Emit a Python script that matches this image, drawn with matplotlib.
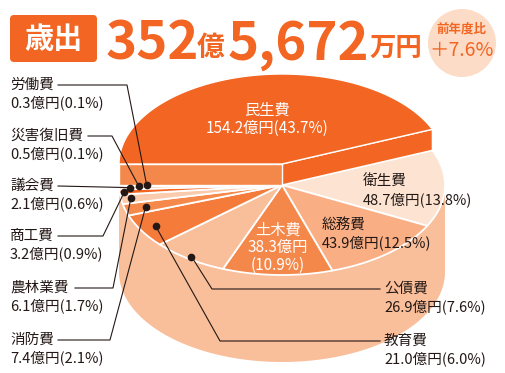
import numpy as np
import matplotlib
matplotlib.use('Agg')
import matplotlib.pyplot as plt
from matplotlib.patches import Polygon, Circle, FancyBboxPatch

plt.rcParams['font.family'] = ['Noto Sans CJK JP', 'DejaVu Sans']

# data (億円 / %)
categories = ['民生費', '衛生費', '総務費', '土木費', '公債費', '教育費',
              '消防費', '農林業費', '商工費', '議会費', '災害復旧費', '労働費']
amounts = [154.2, 48.7, 43.9, 38.3, 26.9, 21.0, 7.4, 6.1, 3.2, 2.1, 0.5, 0.3]
shares = [43.7, 13.8, 12.5, 10.9, 7.6, 6.0, 2.1, 1.7, 0.9, 0.6, 0.1, 0.1]
total_oku = '352'
total_man = '5,672'
yoy = '＋7.6%'

top_colors = ['#F26522', '#FDE4D2', '#F9AE84', '#F4884B', '#F9BE9A', '#F47B3A',
              '#F5894C', '#FBCBAE', '#F26522', '#FBCBAE', '#F9B48C', '#F5894C']

CX, CY = 282, 185
RX, RY = 163, 90
DEPTH = 87
LIFT = 21
SIDE = '#F9BE9A'
DARK = '#F26522'
INK = '#231815'


def rim(cx, cy, ang):
    a = np.radians(ang)
    return np.column_stack([cx + RX * np.cos(a), cy - RY * np.sin(a)])


def wedge(cx, cy, a0, a1):
    arc = rim(cx, cy, np.linspace(a0, a1, 80))
    return np.vstack([[cx, cy], arc])


fig = plt.figure(figsize=(5.06, 3.73), dpi=100)
ax = fig.add_axes([0, 0, 1, 1])
ax.set_xlim(0, 506)
ax.set_ylim(373, 0)
ax.axis('off')

bounds = 180 - np.concatenate([[0], np.cumsum(shares)]) * 3.6

# side of the lower pie
top_arc = rim(CX, CY, np.linspace(0, -180, 120))
bot_arc = rim(CX, CY + DEPTH, np.linspace(-180, 0, 120))
ax.add_patch(Polygon(np.vstack([top_arc, bot_arc]), closed=True, fc=SIDE, ec='none'))

# top faces of the lower pie
for i in range(1, len(shares)):
    ax.add_patch(Polygon(wedge(CX, CY, bounds[i], bounds[i + 1]), closed=True,
                         fc=top_colors[i], ec='white', lw=1.3, joinstyle='round'))

# raised slab (民生費)
tcy = CY - LIFT
p_top = rim(CX, tcy, [bounds[1]])[0]
p_bot = rim(CX, CY, [bounds[1]])[0]
ax.add_patch(Polygon([[CX, tcy], p_top, p_bot, [CX, CY]], closed=True,
                     fc=DARK, ec='white', lw=1.0))
left_top = rim(CX, tcy, [180])[0]
left_bot = rim(CX, CY, [180])[0]
ax.add_patch(Polygon([[CX, tcy], left_top, left_bot, [CX, CY]], closed=True,
                     fc='#F4884A', ec='white', lw=1.0))
ax.add_patch(Polygon(wedge(CX, tcy, bounds[0], bounds[1]), closed=True,
                     fc=top_colors[0], ec='white', lw=1.0))


def label(name, val, pct):
    return name, '{:.1f}億円({:.1f}%)'.format(val, pct)


fs = 10.5
# labels inside / beside the pie
n, v = label(categories[0], amounts[0], shares[0])
ax.text(267, 110, n, color='white', fontsize=fs + 0.5, ha='center', va='center')
ax.text(267, 128, v, color='white', fontsize=fs + 0.5, ha='center', va='center')

ax.text(278, 230, categories[3], color='white', fontsize=fs + 0.5, ha='center', va='center')
ax.text(278, 247, '{:.1f}億円'.format(amounts[3]), color='white', fontsize=fs + 0.5, ha='center', va='center')
ax.text(278, 265, '({:.1f}%)'.format(shares[3]), color='white', fontsize=fs + 0.5, ha='center', va='center')

for idx, (x, y) in {1: (363, 182), 2: (322, 225)}.items():
    n, v = label(categories[idx], amounts[idx], shares[idx])
    ax.text(x, y, n, color=INK, fontsize=fs, ha='left', va='center')
    ax.text(x, y + 18, v, color=INK, fontsize=fs, ha='left', va='center')

# leader lines: index -> (text x, text y, line start x, elbow x, dot radius factor)
left_layout = {
    11: (10, 85, 58, 127, 0.83),
    10: (10, 136, 88, 112, 0.88),
    9: (10, 186, 58, None, 0.93),
    8: (10, 236, 58, 103, 0.97),
    7: (10, 288, 75, 113, 0.94),
    6: (10, 340, 58, 110, 0.87),
}
right_layout = {
    4: (384, 289, 212, 380, 0.97),
    5: (384, 341, 220, 380, 0.90),
}


def dot_pos(i, f):
    mid = np.radians((bounds[i] + bounds[i + 1]) / 2)
    return CX + f * RX * np.cos(mid), CY - f * RY * np.sin(mid)


for i, (tx, ty, x0, xe, f) in left_layout.items():
    n, v = label(categories[i], amounts[i], shares[i])
    ax.text(tx, ty, n, color=INK, fontsize=fs, ha='left', va='center')
    ax.text(tx, ty + 18, v, color=INK, fontsize=fs, ha='left', va='center')
    dx, dy = dot_pos(i, f)
    xs = [x0] + ([xe] if xe else []) + [dx]
    ys = [ty] + ([ty] if xe else []) + [dy]
    ax.plot(xs, ys, color=INK, lw=0.8)
    ax.plot(dx, dy, 'o', color=INK, ms=4.5)

for i, (tx, ty, xe, x1, f) in right_layout.items():
    n, v = label(categories[i], amounts[i], shares[i])
    ax.text(tx, ty, n, color=INK, fontsize=fs, ha='left', va='center')
    ax.text(tx, ty + 18, v, color=INK, fontsize=fs, ha='left', va='center')
    dx, dy = dot_pos(i, f)
    ax.plot([dx, xe, x1], [dy, ty, ty], color=INK, lw=0.8)
    ax.plot(dx, dy, 'o', color=INK, ms=4.5)

# heading
ax.add_patch(FancyBboxPatch((10, 15), 87, 47, boxstyle='round,pad=0,rounding_size=4',
                            fc=DARK, ec='none'))
ax.text(53, 39, '歳出', color='white', fontsize=21, fontweight='bold', ha='center', va='center')
ax.text(106, 60, total_oku, color=DARK, fontsize=38, fontweight='bold', ha='left', va='baseline')
ax.text(197, 56, '億', color=DARK, fontsize=20, fontweight='bold', ha='left', va='baseline')
ax.text(228, 60, total_man, color=DARK, fontsize=38, fontweight='bold', ha='left', va='baseline')
ax.text(369, 56, '万円', color=DARK, fontsize=19, fontweight='bold', ha='left', va='baseline')

ax.add_patch(Circle((462, 43), 34, fc='#FDDCC7', ec='none'))
ax.text(462, 29, '前年度比', color=DARK, fontsize=9, fontweight='bold', ha='center', va='center')
ax.text(462, 51, yoy, color=DARK, fontsize=14, ha='center', va='center')

fig.savefig('out.png', dpi=100)
